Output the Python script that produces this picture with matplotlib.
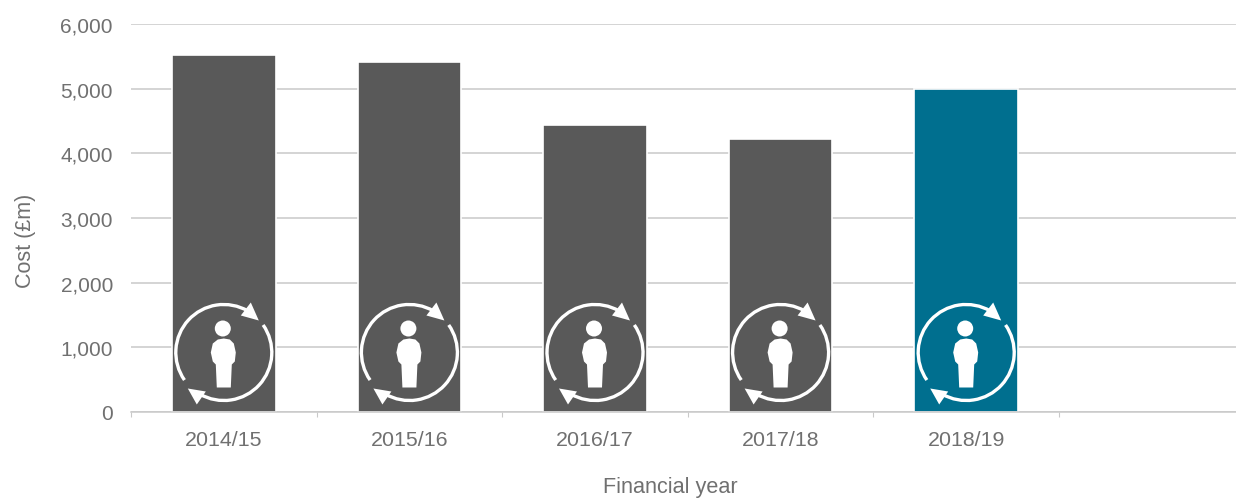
import numpy as np
import matplotlib
matplotlib.use("Agg")
import matplotlib.pyplot as plt
from matplotlib.patches import Circle, Polygon, Arc
from matplotlib.transforms import Affine2D

years = ["2014/15", "2015/16", "2016/17", "2017/18", "2018/19"]
costs = [5520, 5420, 4440, 4220, 4990]
bar_colors = ["#595959", "#595959", "#595959", "#595959", "#006f8f"]
y_ticks = [0, 1000, 2000, 3000, 4000, 5000, 6000]
y_tick_labels = ["0", "1,000", "2,000", "3,000", "4,000", "5,000", "6,000"]

W, H = 1236, 502
plt.rcParams["font.family"] = ["Liberation Sans", "DejaVu Sans"]
TXT = "#707070"
GRID = "#c9c9c9"

fig = plt.figure(figsize=(W / 100, H / 100), dpi=100)
ax = fig.add_axes([131 / W, 1 - 413 / H, (1236 - 131) / W, (413 - 25) / H])
ax.set_xlim(-0.5, -0.5 + (1236 - 131) / 185.6)
ax.set_ylim(0, 6000)
ax.set_axisbelow(True)
ax.yaxis.grid(True, color=GRID, lw=1.1)
ax.xaxis.grid(False)
for s in ax.spines.values():
    s.set_visible(False)
ax.spines["bottom"].set_visible(True)
ax.spines["bottom"].set_color(GRID)
ax.spines["bottom"].set_linewidth(1.1)

x = np.arange(len(years))
ax.bar(x, costs, width=103.5 / 185.6, color=bar_colors, edgecolor="white", linewidth=1.2, zorder=2)

ax.set_yticks(y_ticks)
ax.set_yticklabels(y_tick_labels, fontsize=15, color=TXT)
ax.tick_params(axis="y", length=0, pad=13)
ax.set_xticks(np.arange(0, 6) - 0.5, minor=False)
ax.set_xticklabels([])
ax.tick_params(axis="x", which="major", length=3.5, width=0.8, color=GRID)
ax.set_xticks(x, minor=True)
ax.set_xticklabels(years, minor=True, fontsize=15.4, color=TXT)
ax.tick_params(axis="x", which="minor", length=0, pad=13)
ax.set_ylabel("Cost (£m)", fontsize=15.5, color=TXT, va="center")
ax.yaxis.set_label_coords((26 - 131) / (1236 - 131), (413 - 241) / 388)
ax.text((670 - 131) / (1236 - 131), (413 - 488) / 388, "Financial year", fontsize=15.6,
        color=TXT, ha="center", va="center", transform=ax.transAxes)

# Recurring-person icon, drawn in pixel offsets around each bar's centre
body = [(-6, 13), (0, 14), (6, 13), (10, 9), (12, 0), (11, -9), (8, -12), (7, -35), (-7, -35),
        (-8, -12), (-11, -9), (-13, 0), (-11, 9)]
head1 = [(35, 32), (27, 50), (17, 37)]
head2 = [(-36, -36), (-27, -52), (-18, -39)]
fig.canvas.draw()
for xi in x:
    cx, _ = ax.transData.transform((xi, 0))
    cy = H - 353.5
    t = Affine2D().translate(cx, cy)
    kw = dict(transform=t, clip_on=False, zorder=4)
    ax.add_patch(Arc((0, 0), 96, 96, theta1=60, theta2=215, color="white", lw=2.4, **kw))
    ax.add_patch(Arc((0, 0), 96, 96, theta1=240, theta2=395, color="white", lw=2.4, **kw))
    ax.add_patch(Polygon(head1, closed=True, fc="white", ec="none", **kw))
    ax.add_patch(Polygon(head2, closed=True, fc="white", ec="none", **kw))
    ax.add_patch(Circle((-1, 24), 8, fc="white", ec="none", **kw))
    ax.add_patch(Polygon(body, closed=True, fc="white", ec="none", **kw))

fig.savefig("out.png", dpi=100, facecolor="white")
